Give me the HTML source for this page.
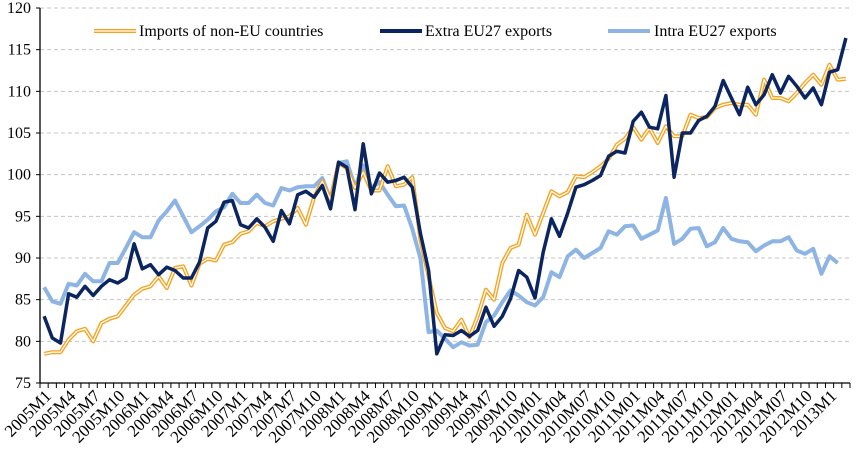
<!DOCTYPE html>
<html><head><meta charset="utf-8"><style>
body{margin:0;background:#fff}
svg text{font-family:"Liberation Serif",serif;fill:#000}
</style></head><body>
<svg id="chart" width="861" height="452" viewBox="0 0 861 452" xmlns="http://www.w3.org/2000/svg">
<g id="grid"></g>
<g id="series"></g>
<g id="axes"></g>
<g id="legend">
  <g>
    <line x1="94" y1="31" x2="136" y2="31" stroke="#f7a21b" stroke-width="4"/>
    <line x1="94" y1="31" x2="136" y2="31" stroke="#fff" stroke-width="1.3"/>
    <text x="139" y="36" font-size="16">Imports of non-EU countries</text>
  </g>
  <g>
    <line x1="380" y1="31" x2="422" y2="31" stroke="#0b2560" stroke-width="4"/>
    <text x="425" y="36" font-size="16">Extra EU27 exports</text>
  </g>
  <g>
    <line x1="608" y1="31" x2="650" y2="31" stroke="#8db4e2" stroke-width="4"/>
    <text x="654" y="36" font-size="16">Intra EU27 exports</text>
  </g>
</g>
</svg>
<script>
const imports = [78.5,78.7,78.7,80.2,81.2,81.5,80.0,82.2,82.7,83.0,84.3,85.6,86.3,86.6,87.8,86.4,88.8,89.0,86.7,89.3,89.9,89.7,91.6,91.9,92.9,93.2,94.2,93.8,94.4,94.7,95.0,96.0,94.0,
97.3,99.2,97.0,101.4,100.8,98.4,100.3,98.1,98.1,101.0,98.6,98.8,99.7,92.2,87.8,83.4,81.6,81.2,82.6,80.5,83.0,86.2,85.0,89.4,91.2,91.6,95.2,92.8,95.4,98.0,97.4,
97.9,99.8,99.7,100.3,101.0,101.9,103.6,104.3,105.7,
104.2,105.6,103.8,105.8,104.6,104.6,107.2,106.8,106.9,108.0,108.4,108.6,108.4,108.4,107.2,111.4,109.2,109.2,108.8,109.8,111.0,112.0,110.8,113.2,111.4,111.5];
const extraEU = [83.0,80.4,79.8,85.7,85.3,86.6,85.5,86.6,87.4,87.0,87.6,91.7,88.7,89.2,88.0,88.9,88.5,87.6,87.6,89.5,93.6,94.4,96.7,96.9,94.0,93.6,94.7,93.7,92.0,95.7,94.1,97.6,
98.0,97.3,98.7,95.9,101.5,100.9,95.8,103.7,97.7,100.2,99.1,99.3,99.7,98.5,92.9,88.5,78.5,80.8,80.7,81.3,80.6,81.3,84.1,81.8,83.0,85.1,88.5,87.7,85.2,90.7,94.7,92.6,
95.4,98.5,98.8,99.3,99.9,102.2,102.8,102.6,106.4,
107.5,105.7,105.5,109.5,99.7,105.0,105.0,106.5,107.0,108.2,111.3,109.2,107.2,110.5,108.4,109.6,112.0,109.8,111.8,110.6,109.2,110.4,108.4,112.3,112.6,116.4];
const intraEU = [86.5,84.8,84.5,86.9,86.7,88.1,87.2,87.2,89.4,89.4,91.2,93.1,92.5,92.5,94.5,95.6,96.9,95.0,93.1,93.8,94.6,95.6,96.1,97.7,96.6,96.6,97.6,96.6,96.3,98.4,98.1,98.5,
98.6,98.6,99.6,97.0,101.4,101.6,98.5,101.1,98.4,99.1,97.6,96.2,96.3,93.5,89.9,81.1,81.3,80.3,79.3,79.9,79.5,79.6,82.3,83.1,84.7,86.1,85.5,84.7,84.3,85.3,88.3,87.7,
90.2,91.0,90.0,90.6,91.2,93.2,92.8,93.8,93.9,92.3,92.8,93.3,97.2,91.7,92.3,93.5,93.6,91.4,91.9,93.6,92.3,92.0,91.9,90.8,91.5,92.0,92.0,92.5,90.9,90.5,91.1,88.1,90.2,89.4];
const yTicks = [75,80,85,90,95,100,105,110,115,120];
function catLabel(i){const y=2005+Math.floor(i/12), m=i%12+1;
  if(y>=2010&&y<=2012) return y+'M'+String(m).padStart(2,'0');
  return y+'M'+m;}
const NS='http://www.w3.org/2000/svg';
const N=99, X0=40, X1=850, Y0=383, Y1=8;
const step=(X1-X0)/N;
const xs=i=>X0+step*(i+0.5);
const ys=v=>Y0-(v-75)/(120-75)*(Y0-Y1);
function mk(tag,attrs,parent){const e=document.createElementNS(NS,tag);for(const k in attrs)e.setAttribute(k,attrs[k]);parent.appendChild(e);return e;}
const grid=document.getElementById('grid'), axes=document.getElementById('axes'), ser=document.getElementById('series');
yTicks.forEach(v=>{
  if(v>75){const g=mk('line',{x1:X0,x2:X1,y1:ys(v),y2:ys(v),stroke:'#c4c4c4','stroke-width':1,'stroke-dasharray':'4,3'},grid);
  
  }
  const t=mk('text',{x:31,y:ys(v)+5,'text-anchor':'end','font-size':'16'},axes);t.textContent=v;
  
  
  mk('line',{x1:X0-4,x2:X0,y1:ys(v),y2:ys(v),stroke:'#000'},axes);
});
const ya=mk('line',{x1:X0,x2:X0,y1:Y1,y2:Y0,stroke:'#000','stroke-width':1.3},axes);


const xa=mk('line',{x1:X0,x2:X1,y1:Y0,y2:Y0,stroke:'#000','stroke-width':1.3},axes);


for(let i=0;i<=N;i++){mk('line',{x1:X0+step*i,x2:X0+step*i,y1:Y0,y2:Y0+5,stroke:'#000'},axes);}
for(let i=0;i<N;i+=3){const x=xs(i)+8,y=Y0+14;
  const t=mk('text',{x:x,y:y,'text-anchor':'end','font-size':'17',transform:`rotate(-45 ${x} ${y})`},axes);
  t.textContent=catLabel(i);
  
  }
function pts(arr){return arr.map((v,i)=>xs(i).toFixed(1)+','+ys(v).toFixed(1)).join(' ');}
let p=mk('polyline',{points:pts(intraEU),fill:'none',stroke:'#8db4e2','stroke-width':4,'stroke-linejoin':'round'},ser);


p=mk('polyline',{points:pts(imports),fill:'none',stroke:'#f7a21b','stroke-width':4,'stroke-linejoin':'round'},ser);


p=mk('polyline',{points:pts(imports),fill:'none',stroke:'#fff','stroke-width':1.3,'stroke-linejoin':'round'},ser);


p=mk('polyline',{points:pts(extraEU),fill:'none',stroke:'#0b2560','stroke-width':3.5,'stroke-linejoin':'round'},ser);


</script>
</body></html>
